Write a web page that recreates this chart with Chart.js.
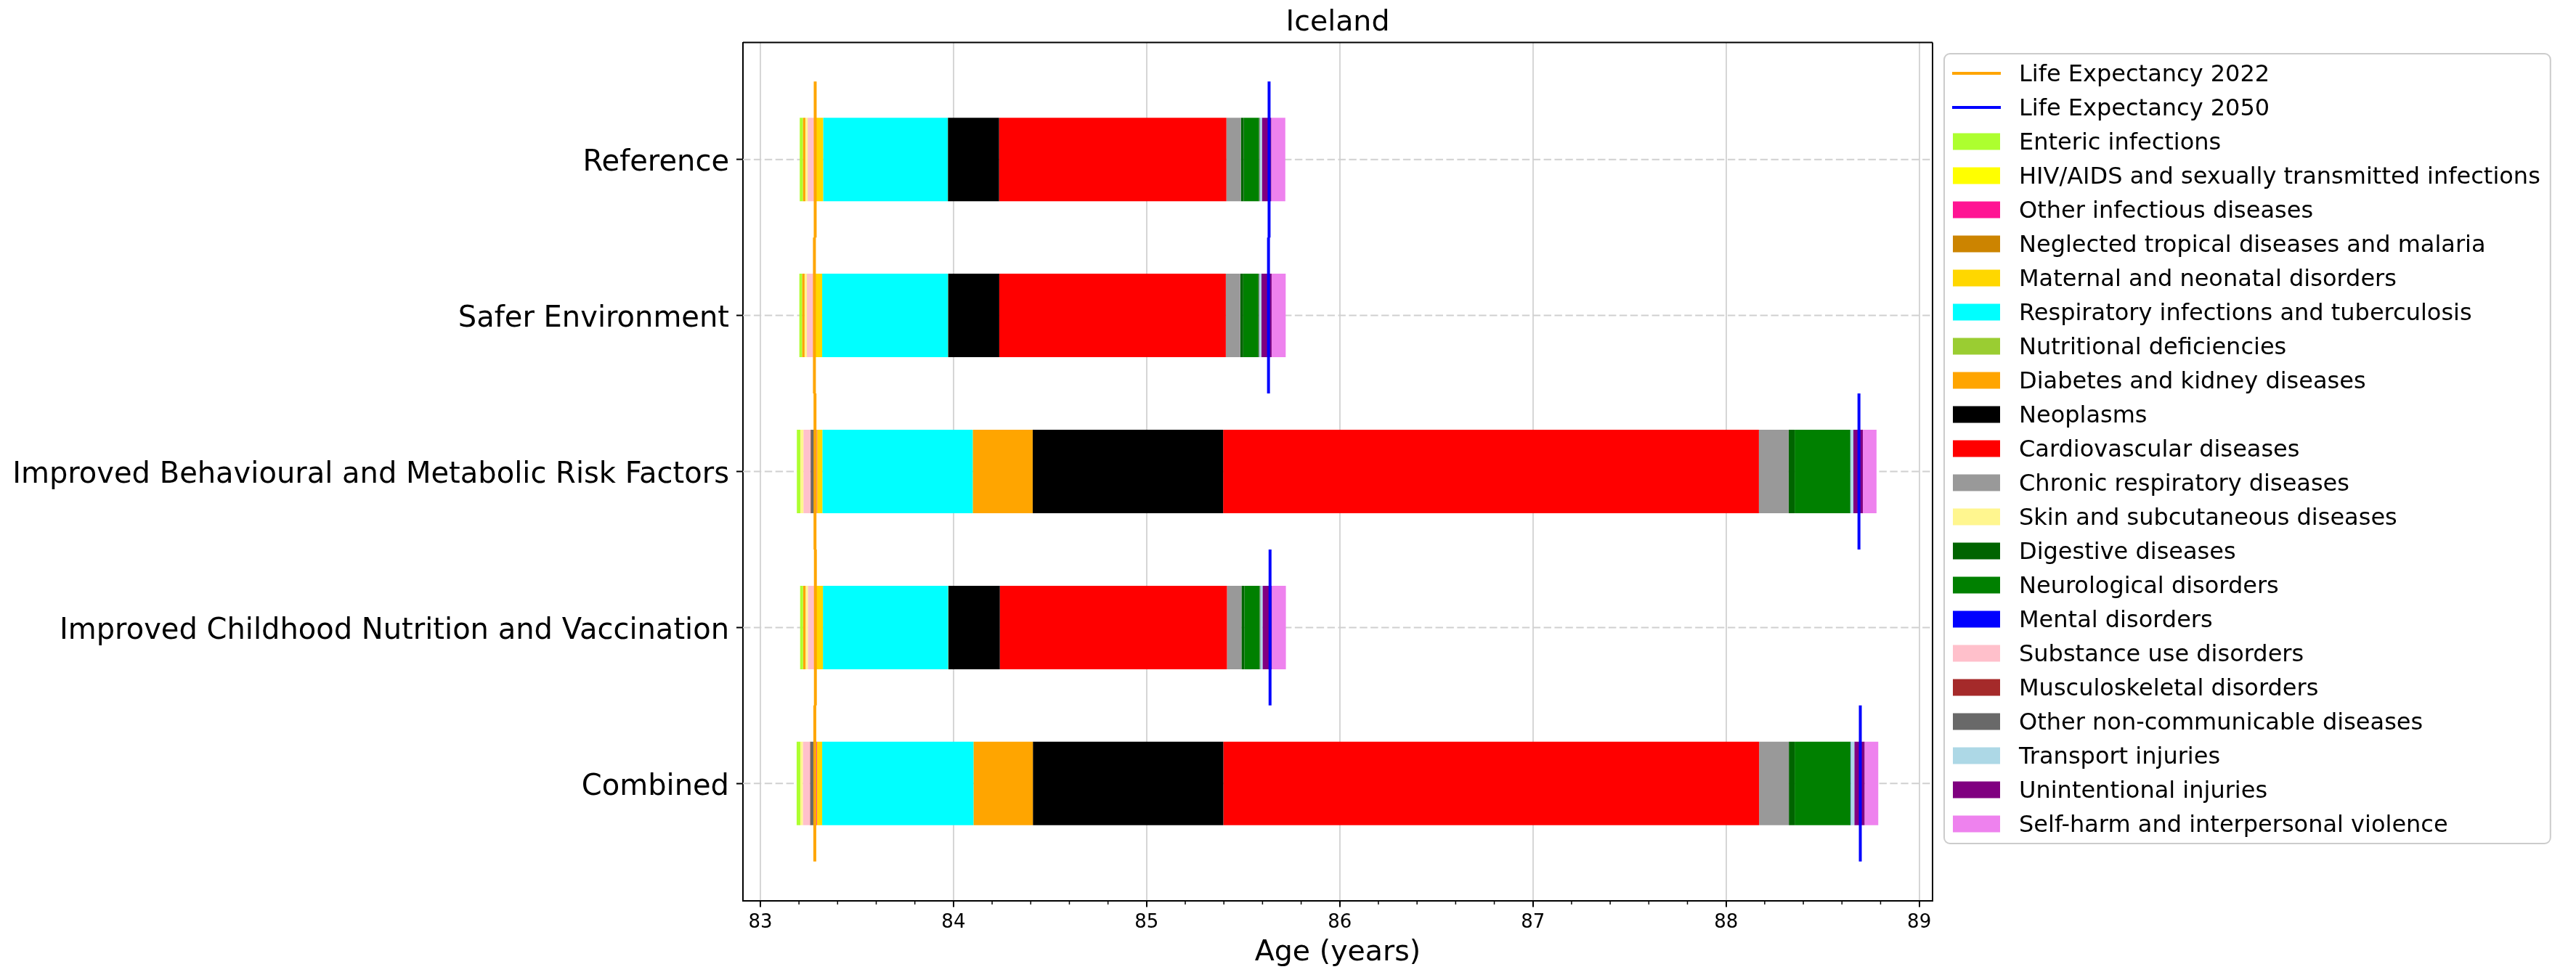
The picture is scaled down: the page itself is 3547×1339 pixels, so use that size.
<!DOCTYPE html>
<html><head><meta charset="utf-8">
<script src="https://cdn.jsdelivr.net/npm/chart.js@4.4.0/dist/chart.umd.min.js"></script>
<style>html,body{margin:0;padding:0;background:#fff;} canvas{display:block;}</style>
</head><body>
<canvas id="c" width="3547" height="1339" style="width:3547px;height:1339px"></canvas>
<script>
// ---------- DATA ----------
const chartTitle = 'Iceland';
const xAxisTitle = 'Age (years)';
const scenarios = ['Reference', 'Safer Environment', 'Improved Behavioural and Metabolic Risk Factors',
  'Improved Childhood Nutrition and Vaccination', 'Combined'];
const le2022 = [83.284, 83.280, 83.283, 83.285, 83.282];
const le2050 = [85.634, 85.631, 88.688, 85.639, 88.695];
const lineLabels = ['Life Expectancy 2022', 'Life Expectancy 2050'];
const lineColors = ['orange', 'blue'];
const causes = ['Enteric infections', 'HIV/AIDS and sexually transmitted infections', 'Other infectious diseases',
  'Neglected tropical diseases and malaria', 'Maternal and neonatal disorders', 'Respiratory infections and tuberculosis',
  'Nutritional deficiencies', 'Diabetes and kidney diseases', 'Neoplasms', 'Cardiovascular diseases',
  'Chronic respiratory diseases', 'Skin and subcutaneous diseases', 'Digestive diseases', 'Neurological disorders',
  'Mental disorders', 'Substance use disorders', 'Musculoskeletal disorders', 'Other non-communicable diseases',
  'Transport injuries', 'Unintentional injuries', 'Self-harm and interpersonal violence'];
const causeColors = ['#adff2f', '#ffff00', '#ff1493', '#cc8400', '#ffd700', '#00ffff', '#9acd32', '#ffa500',
  '#000000', '#ff0000', '#999999', '#fff68f', '#006400', '#008000', '#0000ff', '#ffc0cb', '#a52a2a', '#696969',
  '#add8e6', '#800080', '#ee82ee'];
// contribution (years) of each cause, per scenario (same order as scenarios)
const enteric       = [-0.016, -0.014, -0.018, -0.015, -0.019];
const hivAids       = [ 0.002,  0.002,  0.008,  0.002,  0.008];
const otherInf      = [ 0.001,  0.001,  0.003,  0.001,  0.003];
const ntdMalaria    = [ 0.000,  0.000,  0.000,  0.000,  0.000];
const maternal      = [ 0.038,  0.037,  0.027,  0.036,  0.027];
const respiratory   = [ 0.645,  0.651,  0.778,  0.648,  0.783];
const nutritional   = [ 0.001,  0.001,  0.002,  0.002,  0.002];
const diabetes      = [-0.013, -0.013,  0.309, -0.013,  0.306];
const neoplasms     = [ 0.265,  0.265,  0.986,  0.266,  0.986];
const cardio        = [ 1.177,  1.173,  2.774,  1.176,  2.774];
const chronicResp   = [ 0.075,  0.075,  0.154,  0.075,  0.154];
const skin          = [-0.012, -0.012, -0.016, -0.012, -0.013];
const digestive     = [ 0.015,  0.015,  0.031,  0.015,  0.030];
const neurological  = [ 0.079,  0.079,  0.288,  0.079,  0.289];
const mental        = [ 0.000,  0.000,  0.001,  0.000,  0.001];
const substance     = [-0.034, -0.034, -0.036, -0.034, -0.037];
const musculo       = [-0.005, -0.005, -0.002, -0.005, -0.002];
const otherNcd      = [ 0.004,  0.004, -0.022,  0.004, -0.023];
const transport     = [ 0.011,  0.011,  0.015,  0.011,  0.019];
const unintentional = [ 0.048,  0.053,  0.049,  0.048,  0.053];
const selfHarm      = [ 0.073,  0.073,  0.071,  0.073,  0.071];
const xTicks = [83, 84, 85, 86, 87, 88, 89];
const xMin = 82.91, xMax = 89.069;

// ---------- BUILD ----------
const contributions = [enteric, hivAids, otherInf, ntdMalaria, maternal, respiratory, nutritional, diabetes,
  neoplasms, cardio, chronicResp, skin, digestive, neurological, mental, substance, musculo, otherNcd,
  transport, unintentional, selfHarm];
const ranges = contributions.map(() => []);
scenarios.forEach((s, i) => {
  let neg = le2022[i] + contributions.reduce((a, c) => a + Math.min(0, c[i]), 0);
  let pos = le2022[i];
  contributions.forEach((c, k) => {
    const v = c[i];
    if (v < 0) { ranges[k].push({x: [neg, neg - v], y: i}); neg -= v; }
    else if (v > 0) { ranges[k].push({x: [pos, pos + v], y: i}); pos += v; }
  });
});
function segs(vals) {
  const d = [];
  vals.forEach((v, i) => { d.push({x: v, y: i - 0.5}, {x: v, y: i + 0.5}, {x: null, y: i + 0.5}); });
  return d;
}
const datasets = [
  {type: 'line', label: lineLabels[0], data: segs(le2022), borderColor: lineColors[0], backgroundColor: lineColors[0],
   borderWidth: 4, pointRadius: 0, spanGaps: false, tension: 0, order: 0},
  {type: 'line', label: lineLabels[1], data: segs(le2050), borderColor: lineColors[1], backgroundColor: lineColors[1],
   borderWidth: 4, pointRadius: 0, spanGaps: false, tension: 0, order: 0},
  ...causes.map((name, k) => ({type: 'bar', label: name, data: ranges[k], backgroundColor: causeColors[k],
   borderWidth: 0, grouped: false, categoryPercentage: 1, barPercentage: 0.535, order: 2}))
];

Chart.defaults.font.family = '"DejaVu Sans", sans-serif';
Chart.defaults.color = '#000';

const decor = {
  id: 'decor',
  beforeDatasetsDraw(chart) {
    const {ctx, chartArea: a, scales: {y}} = chart;
    ctx.save();
    ctx.strokeStyle = '#d0d0d0'; ctx.lineWidth = 2; ctx.setLineDash([10.4, 4.5]);
    scenarios.forEach((s, i) => {
      const py = y.getPixelForValue(i);
      ctx.beginPath(); ctx.moveTo(a.left, py); ctx.lineTo(a.right, py); ctx.stroke();
    });
    ctx.restore();
  },
  afterDraw(chart) {
    const {ctx, chartArea: a, scales: {x}} = chart;
    ctx.save();
    ctx.strokeStyle = '#000'; ctx.lineWidth = 2;
    ctx.beginPath();
    ctx.moveTo(a.left, a.top); ctx.lineTo(a.right, a.top);
    ctx.moveTo(a.right, a.top); ctx.lineTo(a.right, a.bottom);
    ctx.stroke();
    // minor ticks
    ctx.lineWidth = 1.5;
    for (let t = 0; t < xTicks.length - 1; t++) {
      for (let m = 1; m < 5; m++) {
        const v = xTicks[t] + (xTicks[t + 1] - xTicks[t]) * m / 5;
        const px = x.getPixelForValue(v);
        ctx.beginPath(); ctx.moveTo(px, a.bottom); ctx.lineTo(px, a.bottom + 5.5); ctx.stroke();
      }
    }
    // legend
    const items = [
      ...lineLabels.map((l, i) => ({label: l, color: lineColors[i], kind: 'line'})),
      ...causes.map((l, i) => ({label: l, color: causeColors[i], kind: 'rect'}))
    ];
    ctx.font = '32px "DejaVu Sans"';
    const textX = 2780;
    const maxW = Math.max(...items.map(it => ctx.measureText(it.label).width));
    const bx = 2677, by = 74, bw = textX + maxW + 14 - bx, bh = 1162 - by, r = 8;
    ctx.fillStyle = 'rgba(255,255,255,0.8)';
    ctx.strokeStyle = '#cccccc'; ctx.lineWidth = 2;
    ctx.beginPath();
    ctx.moveTo(bx + r, by); ctx.lineTo(bx + bw - r, by); ctx.arcTo(bx + bw, by, bx + bw, by + r, r);
    ctx.lineTo(bx + bw, by + bh - r); ctx.arcTo(bx + bw, by + bh, bx + bw - r, by + bh, r);
    ctx.lineTo(bx + r, by + bh); ctx.arcTo(bx, by + bh, bx, by + bh - r, r);
    ctx.lineTo(bx, by + r); ctx.arcTo(bx, by, bx + r, by, r); ctx.closePath();
    ctx.fill(); ctx.stroke();
    ctx.textBaseline = 'middle'; ctx.textAlign = 'left';
    items.forEach((it, i) => {
      const cy = 101 + i * 47;
      if (it.kind === 'line') {
        ctx.strokeStyle = it.color; ctx.lineWidth = 4;
        ctx.beginPath(); ctx.moveTo(2688, cy); ctx.lineTo(2755, cy); ctx.stroke();
      } else {
        ctx.fillStyle = it.color; ctx.fillRect(2689, cy - 11.5, 65, 23);
      }
      ctx.fillStyle = '#000';
      ctx.fillText(it.label, textX, cy + 3);
    });
    ctx.restore();
  }
};

new Chart(document.getElementById('c'), {
  type: 'bar',
  data: {datasets},
  plugins: [decor],
  options: {
    indexAxis: 'y',
    responsive: false,
    animation: false,
    devicePixelRatio: 1,
    layout: {padding: {left: 0, right: 886, top: 0, bottom: 0}},
    plugins: {
      legend: {display: false},
      tooltip: {enabled: false},
      title: {display: true, text: chartTitle, fullSize: false, color: '#000',
        font: {size: 39.5, weight: 'normal'}, padding: {top: 8, bottom: 3.1}}
    },
    scales: {
      x: {type: 'linear', min: xMin, max: xMax, position: 'bottom',
        afterBuildTicks: s => { s.ticks = xTicks.map(v => ({value: v})); },
        ticks: {font: {size: 26}, color: '#000', padding: 6, autoSkip: false, maxRotation: 0,
          callback: v => String(v)},
        grid: {color: '#d6d6d6', lineWidth: 2, tickColor: '#000', tickLength: 9, tickWidth: 2},
        border: {display: true, color: '#000', width: 2},
        title: {display: true, text: xAxisTitle, color: '#000', font: {size: 39.5}, padding: {top: 0, bottom: 3}},
        afterFit: s => { s.height = 98.5; }
      },
      y: {type: 'linear', min: -0.75, max: 4.75, reverse: true, offset: false,
        afterBuildTicks: s => { s.ticks = scenarios.map((_, i) => ({value: i})); },
        ticks: {font: {size: 40}, color: '#000', padding: 10, autoSkip: false, labelOffset: 5,
          callback: v => scenarios[v]},
        grid: {display: true, drawOnChartArea: false, offset: false, color: 'rgba(0,0,0,0)', tickColor: '#000',
          tickLength: 9, tickWidth: 2},
        border: {display: true, color: '#000', width: 2},
        afterFit: s => { s.width = 1023; }
      }
    }
  }
});
</script>
</body></html>
